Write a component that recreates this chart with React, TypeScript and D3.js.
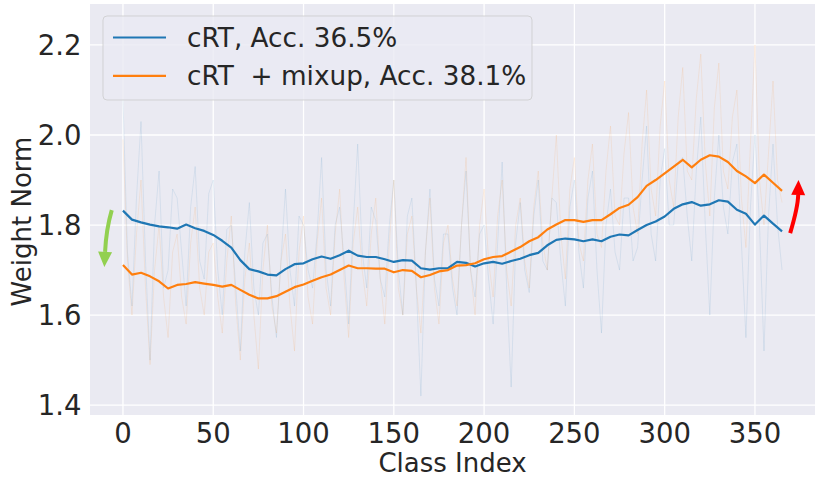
import { useEffect, useRef } from 'react';
import * as d3 from 'd3';

// smoothed norms, sampled every 5 classes (0 .. 365)
const smoothStep = 5;

const cRTSmooth = [
  1.832, 1.812, 1.806, 1.801, 1.797, 1.795, 1.792, 1.801, 1.793, 1.787,
  1.778, 1.765, 1.750, 1.722, 1.702, 1.697, 1.690, 1.688, 1.702, 1.713,
  1.715, 1.724, 1.730, 1.725, 1.733, 1.743, 1.732, 1.729, 1.729, 1.724,
  1.718, 1.722, 1.721, 1.704, 1.701, 1.704, 1.704, 1.718, 1.716, 1.708,
  1.715, 1.718, 1.714, 1.720, 1.725, 1.733, 1.738, 1.755, 1.767, 1.770,
  1.768, 1.764, 1.768, 1.764, 1.774, 1.779, 1.777, 1.789, 1.800, 1.808,
  1.819, 1.836, 1.846, 1.851, 1.843, 1.846, 1.855, 1.852, 1.834, 1.825,
  1.801, 1.821, 1.803, 1.786,
];

const mixupSmooth = [
  1.711, 1.690, 1.694, 1.686, 1.675, 1.659, 1.667, 1.669, 1.673, 1.670,
  1.667, 1.663, 1.667, 1.656, 1.645, 1.637, 1.637, 1.642, 1.652, 1.662,
  1.668, 1.676, 1.684, 1.690, 1.700, 1.710, 1.704, 1.704, 1.703, 1.703,
  1.695, 1.700, 1.698, 1.684, 1.689, 1.697, 1.700, 1.710, 1.711, 1.715,
  1.724, 1.729, 1.731, 1.741, 1.751, 1.764, 1.773, 1.790, 1.801, 1.811,
  1.811, 1.807, 1.811, 1.811, 1.824, 1.838, 1.845, 1.862, 1.887, 1.900,
  1.915, 1.930, 1.945, 1.928, 1.945, 1.955, 1.952, 1.940, 1.920, 1.908,
  1.893, 1.912, 1.894, 1.876,
];

// raw (unsmoothed) norms, sampled every 2.5 classes, drawn faintly
const rawStep = 2.5;

const cRTRaw = [
  2.08, 1.74, 1.62, 1.86, 2.03, 1.72, 1.50, 1.80, 1.92, 1.66,
  1.70, 1.88, 1.86, 1.74, 1.62, 1.84, 1.93, 1.72, 1.68, 1.87,
  1.90, 1.70, 1.60, 1.79, 1.80, 1.66, 1.52, 1.74, 1.85, 1.66,
  1.60, 1.76, 1.78, 1.64, 1.55, 1.72, 1.88, 1.70, 1.62, 1.82,
  1.80, 1.70, 1.66, 1.78, 1.95, 1.70, 1.62, 1.80, 1.84, 1.72,
  1.58, 1.80, 1.98, 1.74, 1.66, 1.84, 1.81, 1.68, 1.64, 1.80,
  1.90, 1.70, 1.60, 1.82, 1.86, 1.66, 1.42, 1.74, 1.88, 1.68,
  1.62, 1.78, 1.78, 1.66, 1.60, 1.80, 1.92, 1.70, 1.64, 1.78,
  1.80, 1.68, 1.58, 1.76, 1.94, 1.66, 1.44, 1.76, 1.85, 1.70,
  1.65, 1.82, 1.90, 1.72, 1.70, 1.86, 1.85, 1.72, 1.62, 1.84,
  1.90, 1.74, 1.66, 1.86, 1.92, 1.70, 1.56, 1.80, 1.88, 1.74,
  1.70, 1.86, 1.86, 1.72, 1.75, 1.90, 2.02, 1.78, 1.72, 1.90,
  1.97, 1.80, 1.80, 1.94, 1.95, 1.82, 1.72, 1.92, 2.04, 1.80,
  1.60, 1.86, 2.00, 1.84, 1.78, 1.94, 1.98, 1.76, 1.55, 1.84,
  2.00, 1.80, 1.52, 1.82, 1.98, 1.80, 1.70,
];

const mixupRaw = [
  1.99, 1.72, 1.60, 1.78, 1.90, 1.66, 1.49, 1.70, 1.80, 1.64,
  1.55, 1.74, 1.78, 1.64, 1.58, 1.76, 1.84, 1.66, 1.60, 1.74,
  1.76, 1.64, 1.56, 1.72, 1.82, 1.62, 1.50, 1.68, 1.76, 1.60,
  1.48, 1.70, 1.80, 1.62, 1.56, 1.72, 1.78, 1.62, 1.52, 1.74,
  1.82, 1.64, 1.58, 1.76, 1.86, 1.66, 1.60, 1.78, 1.88, 1.68,
  1.55, 1.76, 1.84, 1.70, 1.62, 1.78, 1.86, 1.68, 1.58, 1.76,
  1.90, 1.66, 1.60, 1.78, 1.82, 1.66, 1.56, 1.74, 1.86, 1.66,
  1.58, 1.76, 1.80, 1.68, 1.62, 1.80, 1.95, 1.70, 1.60, 1.80,
  1.88, 1.72, 1.64, 1.82, 1.90, 1.70, 1.62, 1.80, 1.86, 1.72,
  1.66, 1.84, 1.92, 1.76, 1.70, 1.86, 2.00, 1.78, 1.68, 1.88,
  1.95, 1.76, 1.72, 1.90, 1.98, 1.78, 1.75, 1.92, 2.02, 1.82,
  1.80, 1.96, 2.05, 1.84, 1.78, 1.98, 2.10, 1.88, 1.82, 2.02,
  2.12, 1.90, 1.84, 2.04, 2.15, 1.92, 1.90, 2.08, 2.18, 1.94,
  1.82, 2.06, 2.16, 1.92, 1.88, 2.04, 2.10, 1.86, 1.75, 1.98,
  2.20, 1.90, 1.80, 1.96, 2.12, 1.90, 1.85,
];

const seriesLabels = ['cRT, Acc. 36.5%', 'cRT  + mixup, Acc. 38.1%'];
const xTicks = [0, 50, 100, 150, 200, 250, 300, 350];
const yTicks = [1.4, 1.6, 1.8, 2.0, 2.2];

// annotation arrows: [class, norm] tail -> tip
const downArrow = { from: [-6.2, 1.833], ctrl: [-9.3, 1.79], to: [-10.3, 1.707] };
const upArrow = { from: [369.5, 1.782], ctrl: [373.8, 1.84], to: [374.1, 1.9] };

export default function App() {
  const svgRef = useRef<SVGSVGElement>(null);
  const width = 831;
  const height = 479;

  useEffect(() => {
    if (!svgRef.current) return;
    const margin = { top: 4, right: 16, bottom: 64, left: 90 };
    const innerW = width - margin.left - margin.right;
    const innerH = height - margin.top - margin.bottom;
    const font = 'DejaVu Sans';
    const ink = '#262626';

    const svg = d3.select(svgRef.current);
    svg.selectAll('*').remove();

    const x = d3.scaleLinear().domain([-18.25, 383.25]).range([0, innerW]);
    const y = d3.scaleLinear().domain([1.378, 2.291]).range([innerH, 0]);

    const g = svg.append('g').attr('transform', `translate(${margin.left},${margin.top})`);

    g.append('rect').attr('width', innerW).attr('height', innerH).attr('fill', '#eaeaf2');

    // Grid
    g.append('g')
      .selectAll('line')
      .data(xTicks)
      .join('line')
      .attr('x1', (d) => x(d))
      .attr('x2', (d) => x(d))
      .attr('y1', 0)
      .attr('y2', innerH)
      .attr('stroke', '#fff')
      .attr('stroke-width', 1.3);
    g.append('g')
      .selectAll('line')
      .data(yTicks)
      .join('line')
      .attr('x1', 0)
      .attr('x2', innerW)
      .attr('y1', (d) => y(d))
      .attr('y2', (d) => y(d))
      .attr('stroke', '#fff')
      .attr('stroke-width', 1.3);

    const lineAt = (step: number) =>
      d3
        .line<number>()
        .x((_, i) => x(i * step))
        .y((d) => y(d));

    const colors = ['#1f77b4', '#ff7f0e'];

    // faint raw lines
    [cRTRaw, mixupRaw].forEach((vals, i) => {
      g.append('path')
        .datum(vals)
        .attr('fill', 'none')
        .attr('stroke', colors[i])
        .attr('stroke-opacity', 0.1)
        .attr('stroke-width', 1)
        .attr('d', lineAt(rawStep));
    });

    // smoothed lines
    [cRTSmooth, mixupSmooth].forEach((vals, i) => {
      g.append('path')
        .datum(vals)
        .attr('fill', 'none')
        .attr('stroke', colors[i])
        .attr('stroke-width', 2.2)
        .attr('stroke-linejoin', 'round')
        .attr('d', lineAt(smoothStep));
    });

    // arrows
    const drawArrow = (a: typeof downArrow, color: string) => {
      const [fx, fy] = [x(a.from[0]), y(a.from[1])];
      const [cx, cy] = [x(a.ctrl[0]), y(a.ctrl[1])];
      const [tx, ty] = [x(a.to[0]), y(a.to[1])];
      const ang = Math.atan2(ty - cy, tx - cx);
      const headLen = 15;
      const headW = 7;
      const bx = tx - headLen * Math.cos(ang);
      const by = ty - headLen * Math.sin(ang);
      g.append('path')
        .attr('d', `M${fx},${fy} Q${cx},${cy} ${bx},${by}`)
        .attr('fill', 'none')
        .attr('stroke', color)
        .attr('stroke-width', 4);
      const px = -Math.sin(ang);
      const py = Math.cos(ang);
      g.append('path')
        .attr(
          'd',
          `M${tx},${ty} L${bx + headW * px},${by + headW * py} L${bx - headW * px},${by - headW * py} Z`
        )
        .attr('fill', color);
    };
    drawArrow(downArrow, '#92d050');
    drawArrow(upArrow, '#ff0000');

    // legend
    const leg = g.append('g').attr('transform', `translate(${103 - margin.left},${16 - margin.top})`);
    leg.append('rect')
      .attr('width', 429)
      .attr('height', 84)
      .attr('rx', 4)
      .attr('fill', '#eaeaf2')
      .attr('fill-opacity', 0.8)
      .attr('stroke', '#cccccc')
      .attr('stroke-opacity', 0.8);
    seriesLabels.forEach((label, i) => {
      const ly = 21.5 + i * 38.3;
      leg.append('line')
        .attr('x1', 10)
        .attr('x2', 63)
        .attr('y1', ly)
        .attr('y2', ly)
        .attr('stroke', colors[i])
        .attr('stroke-width', 2.2);
      leg.append('text')
        .attr('x', 84)
        .attr('y', ly + 9.5)
        .attr('font-family', font)
        .attr('font-size', 26.3)
        .attr('fill', ink)
        .style('white-space', 'pre')
        .text(label);
    });

    // X axis ticks
    g.append('g')
      .selectAll('text')
      .data(xTicks)
      .join('text')
      .attr('x', (d) => x(d))
      .attr('y', innerH + 28)
      .attr('text-anchor', 'middle')
      .attr('font-family', font)
      .attr('font-size', 27.5)
      .attr('fill', ink)
      .text((d) => `${d}`);

    // Y axis ticks
    g.append('g')
      .selectAll('text')
      .data(yTicks)
      .join('text')
      .attr('x', -8.5)
      .attr('y', (d) => y(d))
      .attr('dy', '0.36em')
      .attr('text-anchor', 'end')
      .attr('font-family', font)
      .attr('font-size', 27.5)
      .attr('fill', ink)
      .text((d) => d.toFixed(1));

    // Axis labels
    svg.append('text')
      .attr('x', margin.left + innerW / 2)
      .attr('y', 471.5)
      .attr('text-anchor', 'middle')
      .attr('font-family', font)
      .attr('font-size', 26)
      .attr('fill', ink)
      .text('Class Index');

    svg.append('text')
      .attr('transform', `translate(31,${margin.top + innerH / 2 + 12}) rotate(-90)`)
      .attr('text-anchor', 'middle')
      .attr('font-family', font)
      .attr('font-size', 26)
      .attr('fill', ink)
      .text('Weight Norm');
  }, []);

  return (
    <svg
      ref={svgRef}
      width={width}
      height={height}
      style={{ position: 'absolute', left: 0, top: 0, background: '#fff' }}
    />
  );
}
